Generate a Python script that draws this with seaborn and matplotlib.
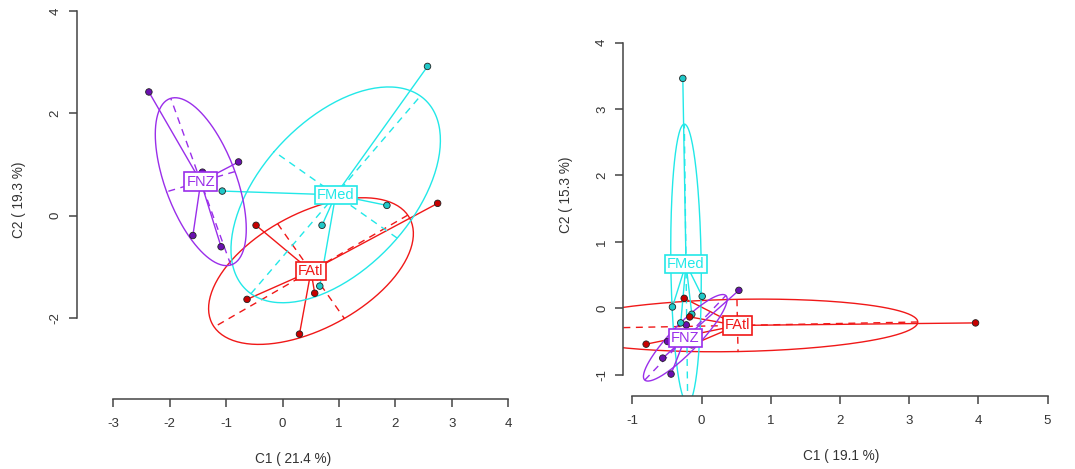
import numpy as np
import pandas as pd
import matplotlib
matplotlib.use("Agg")
import matplotlib.pyplot as plt
import seaborn as sns

sns.set_theme(style="white")
plt.rcParams['font.family'] = ['Liberation Sans', 'DejaVu Sans']
plt.rcParams['axes.unicode_minus'] = False

# ---- data ----
groups = ['FAtl', 'FMed', 'FNZ']
colors = {'FAtl': '#F01818', 'FMed': '#22E8E8', 'FNZ': '#9A2EEA'}
fills = {'FAtl': '#C80000', 'FMed': '#20C8C8', 'FNZ': '#6A10B0'}

# left panel (C1 21.4 %, C2 19.3 %)
left_group = ['FNZ'] * 5 + ['FMed'] * 5 + ['FAtl'] * 5
left_c1 = [-2.37, -0.78, -1.42, -1.59, -1.09,
           2.57, -1.07, 1.85, 0.70, 0.66,
           2.75, -0.47, -0.63, 0.57, 0.30]
left_c2 = [2.42, 1.05, 0.85, -0.39, -0.61,
           2.92, 0.48, 0.20, -0.19, -1.38,
           0.24, -0.19, -1.64, -1.52, -2.32]

# right panel (C1 19.1 %, C2 15.3 %)
right_group = ['FNZ'] * 5 + ['FMed'] * 5 + ['FAtl'] * 5
right_c1 = [0.54, -0.22, -0.49, -0.56, -0.44,
            -0.27, 0.01, -0.42, -0.14, -0.30,
            3.96, -0.80, -0.25, -0.17, -0.14]
right_c2 = [0.27, -0.25, -0.50, -0.75, -0.99,
            3.46, 0.18, 0.02, -0.09, -0.22,
            -0.22, -0.54, 0.15, -0.13, -0.55]

W, H = 1075, 469
fig = plt.figure(figsize=(W / 100, H / 100), dpi=100)


def add_axes_px(left, right, top, bottom):
    return fig.add_axes([left / W, (H - bottom) / H, (right - left) / W, (bottom - top) / H])


def draw_class(ax, df):
    for g in groups:
        sub = df[df.group == g]
        x = sub.c1.values
        y = sub.c2.values
        mx, my = x.mean(), y.mean()
        # stars
        for xi, yi in zip(x, y):
            ax.plot([mx, xi], [my, yi], color=colors[g], lw=1.0, zorder=2)
        # covariance ellipse (population variance, 1.5 sd)
        cov = np.cov(np.vstack([x, y]), bias=True)
        vals, vecs = np.linalg.eigh(cov)
        t = np.linspace(0, 2 * np.pi, 200)
        r = 1.5 * np.sqrt(np.clip(vals, 0, None))
        pts = vecs @ np.vstack([r[0] * np.cos(t), r[1] * np.sin(t)])
        ax.plot(mx + pts[0], my + pts[1], color=colors[g], lw=1.0, zorder=2)
        for k in range(2):
            d = vecs[:, k] * r[k]
            ax.plot([mx - d[0], mx + d[0]], [my - d[1], my + d[1]],
                    color=colors[g], lw=1.0, ls=(0, (5, 4)), zorder=2)
    sns.scatterplot(data=df, x='c1', y='c2', hue='group', palette=fills,
                    s=22, edgecolor='#222222', linewidth=0.6, legend=False,
                    zorder=3, ax=ax)
    for g in groups:
        sub = df[df.group == g]
        ax.text(sub.c1.mean(), sub.c2.mean(), g, color=colors[g], fontsize=10.5,
                ha='center', va='center', zorder=5,
                bbox=dict(boxstyle='square,pad=0.15', fc='white', ec=colors[g], lw=1.2))


def style_axes(ax, xb, yb, xlabel, ylabel, xl_pos, yl_pos):
    for s in ['top', 'right']:
        ax.spines[s].set_visible(False)
    for s in ['left', 'bottom']:
        ax.spines[s].set_color('#444444')
        ax.spines[s].set_linewidth(1.1)
    ax.spines['bottom'].set_bounds(*xb)
    ax.spines['left'].set_bounds(*yb)
    ax.set_xticks(np.arange(xb[0], xb[1] + 1))
    ax.set_yticks(np.arange(yb[0], yb[1] + 1, 2 if yb[1] - yb[0] > 5 else 1))
    ax.tick_params(axis='both', direction='out', length=6, width=1.1, color='#444444',
                   labelsize=9.5, labelcolor='#333333', left=True, bottom=True)
    ax.tick_params(axis='x', pad=8)
    ax.tick_params(axis='y', pad=5)
    for lab in ax.get_yticklabels():
        lab.set_rotation(90)
        lab.set_va('center')
    ax.set_xlabel(xlabel, fontsize=9.8, color='#333333')
    ax.set_ylabel(ylabel, fontsize=9.8, color='#333333')
    ax.xaxis.set_label_coords(*xl_pos)
    ax.yaxis.set_label_coords(*yl_pos)
    ax.set_facecolor('none')


# left panel
ax1 = add_axes_px(76.7, 520, 0, 399)
df1 = pd.DataFrame({'group': left_group, 'c1': left_c1, 'c2': left_c2})
draw_class(ax1, df1)
ax1.set_xlim(-3.65, 4.21)
ax1.set_ylim(-3.59, 4.22)
style_axes(ax1, (-3, 4), (-2, 4), 'C1 ( 21.4 %)', 'C2 ( 19.3 %)', (0.489, -0.133), (-0.115, 0.5))

# right panel
ax2 = add_axes_px(623.3, 1060, -6, 396)
df2 = pd.DataFrame({'group': right_group, 'c1': right_c1, 'c2': right_c2})
draw_class(ax2, df2)
ax2.set_xlim(-1.13, 5.18)
ax2.set_ylim(-1.32, 4.73)
style_axes(ax2, (-1, 5), (-1, 4), 'C1 ( 19.1 %)', 'C2 ( 15.3 %)', (0.5, -0.132), (-0.116, 0.5))

fig.savefig('out.png', dpi=100)
